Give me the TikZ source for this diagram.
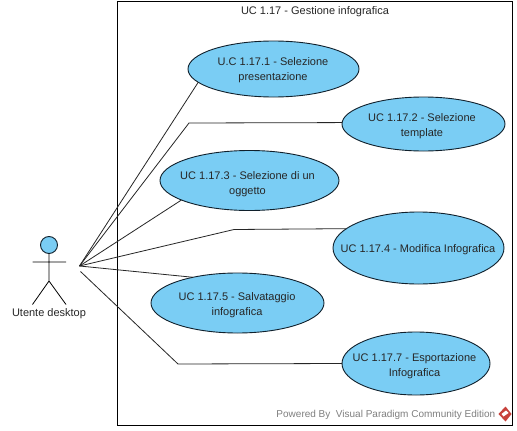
\documentclass[tikz,border=0pt]{standalone}
\usepackage{fontspec}
\setmainfont{Liberation Sans}
\usetikzlibrary{shapes.geometric}
\definecolor{ucfill}{HTML}{7ACDF4}
\definecolor{ucedge}{HTML}{10202C}
\definecolor{wm}{HTML}{7F7F7F}
\definecolor{logored}{HTML}{C8423C}
\tikzset{
 usecase/.style={ellipse,draw=ucedge,fill=ucfill,line width=0.9pt,inner sep=0pt,outer sep=0pt},
 uctext/.style={font=\fontsize{11pt}{15pt}\selectfont,text=black!85,align=center,inner sep=0pt},
 link/.style={draw=black!85,line width=0.8pt},
 stick/.style={draw=black,line width=0.8pt},
}
\begin{document}
\begin{tikzpicture}[x=1pt,y=-1pt]
\useasboundingbox (0,0) rectangle (517,431);
\fill[white] (0,0) rectangle (517,431);
\node[draw=black,line width=0.9pt,minimum width=395pt,minimum height=424pt,inner sep=0pt,outer sep=0pt,anchor=north west] (frame) at (117.5,1) {};
\node[uctext,anchor=center] (title) at (315,11.5) {UC 1.17 - Gestione infografica};

\node[usecase,minimum width=171pt,minimum height=56pt] (e1) at (273.5,69) {};
\node[uctext] (t1) at (273,70.5) {U.C 1.17.1 - Selezione\\presentazione};
\node[usecase,minimum width=163pt,minimum height=54pt] (e2) at (423.5,124) {};
\node[uctext] (t2) at (422,126.5) {UC 1.17.2 - Selezione\\template};
\node[usecase,minimum width=179pt,minimum height=60pt] (e3) at (249.5,180.5) {};
\node[uctext] (t3) at (247.5,184) {UC 1.17.3 - Selezione di un\\oggetto};
\node[usecase,minimum width=171pt,minimum height=72pt] (e4) at (418.5,248) {};
\node[uctext] (t4) at (418,249.5) {UC 1.17.4 - Modifica Infografica};
\node[usecase,minimum width=173pt,minimum height=60pt] (e5) at (237.5,303) {};
\node[uctext] (t5) at (237,305.5) {UC 1.17.5 - Salvataggio\\infografica};
\node[usecase,minimum width=148pt,minimum height=63pt] (e6) at (416,363.5) {};
\node[uctext] (t6) at (414.5,366.5) {UC 1.17.7 - Esportazione\\Infografica};

% actor
\node[circle,draw=ucedge,fill=ucfill,line width=0.9pt,minimum size=17pt,inner sep=0pt,outer sep=0pt] (head) at (49,245) {};
\coordinate (hip) at (49,281);
\coordinate (armL) at (32.5,262);
\coordinate (armR) at (66,262);
\coordinate (legL) at (32.5,304.5);
\coordinate (legR) at (66,304.5);
\draw[stick] (head.south) -- (hip) (armL) -- (armR) (legL) -- (hip) -- (legR);
\node[uctext] (actor) at (49,313.5) {Utente desktop};

% connectors
\coordinate (hub) at (79.5,266);
\coordinate (hubb) at (80.5,271.5);
\coordinate (b2) at (189,123);
\coordinate (b4) at (234,229.5);
\coordinate (b6) at (178,364);
\draw[link] (hub) -- (e1.190);
\draw[link] (hub) -- (b2) -- (e2.179);
\draw[link] (hub) -- (e3.196);
\draw[link] (hub) -- (b4) -- (e4.165);
\draw[link] (hub) -- (e5.150);
\draw[link] (hubb) -- (b6) -- (e6.180);

% watermark
\node[font=\fontsize{10pt}{12pt}\selectfont,text=wm,anchor=east,inner sep=0pt] (wmark) at (495.5,414.5) {Powered By\ \ Visual Paradigm Community Edition};
\fill[logored] (505.5,406.5) -- (511.5,414) -- (505.5,421.5) -- (498.5,414) -- cycle;
\fill[white] (506,410.5) -- (508.5,413) -- (503.5,416.5) -- (501.5,414) -- cycle;
\end{tikzpicture}
\end{document}
